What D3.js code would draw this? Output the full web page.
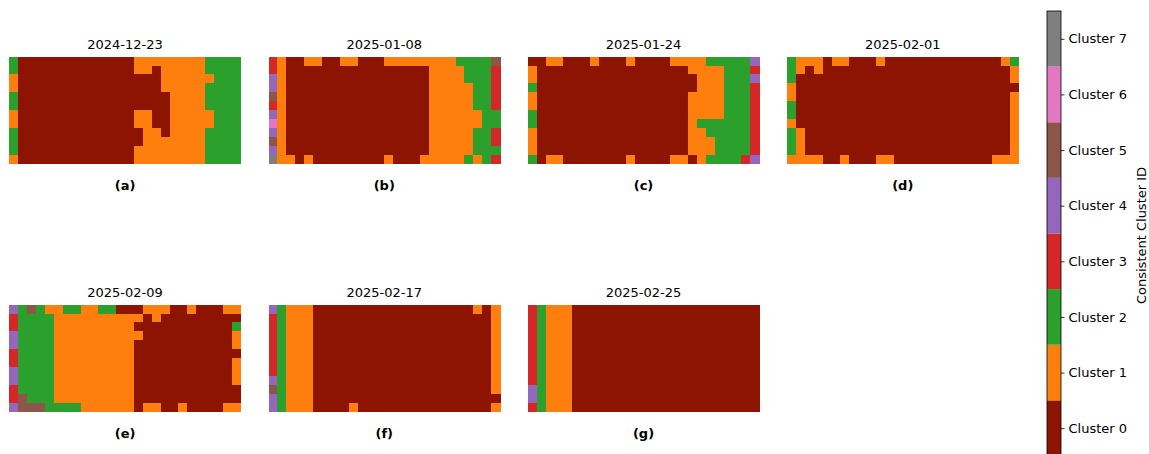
<!DOCTYPE html>
<html>
<head>
<meta charset="UTF-8">
<title>Consistent clusters over time</title>
<script src="https://cdnjs.cloudflare.com/ajax/libs/d3/7.8.5/d3.min.js"></script>
<style>
  body { margin: 0; background: #fff; }
  text { font-family: "DejaVu Sans", sans-serif; }
</style>
</head>
<body>
<div id="chart"></div>
<script>
// cluster id per cell, one string per grid row (12 rows x 26 columns)
const dates = ["2024-12-23", "2025-01-08", "2025-01-24", "2025-02-01", "2025-02-09", "2025-02-17", "2025-02-25"];
const letters = ["(a)", "(b)", "(c)", "(d)", "(e)", "(f)", "(g)"];
const clusterNames = ["Cluster 0", "Cluster 1", "Cluster 2", "Cluster 3", "Cluster 4", "Cluster 5", "Cluster 6", "Cluster 7"];
const clusterColors = ["#8c1400", "#ff7f0e", "#2ca02c", "#d62728", "#9467bd", "#8c564b", "#e377c2", "#7f7f7f"];

const gridA = [
  "20000000000000111111112222",
  "20000000000000110111112222",
  "10000000000000000111111222",
  "10000000000000000111112222",
  "20000000000000000011112222",
  "20000000000000000011112222",
  "10000000000000110011111222",
  "10000000000000110011111222",
  "20000000000000011011112222",
  "20000000000000011111112222",
  "20000000000000111111112222",
  "10000000000000111111112222"
];
const gridB = [
  "31001100110001111111122225",
  "31000000000000000011112223",
  "41000000000000000011112223",
  "41000000000000000011111223",
  "51000000000000000011111223",
  "31000000000000000011111223",
  "41000000000000000011111122",
  "61000000000000000011111122",
  "41000000000000000011111223",
  "51000000000000000011111223",
  "41000000000000000011111222",
  "71101000000001000111112123"
];
const gridC = [
  "00110001000100001111222224",
  "10000000000000000011112223",
  "10000000000000000001112224",
  "20000000000000000001112223",
  "10000000000000000011112223",
  "10000000000000000011112223",
  "20000000000000000011112223",
  "20000000000000000012222223",
  "10000000000000000011222223",
  "10000000000000000011122223",
  "10000000000000000011122223",
  "20110000000100001101222234"
];
const gridD = [
  "21110110001000000000000012",
  "21010000000000000000000001",
  "20000000000000000000000001",
  "10000000000000000000000000",
  "10000000000000000000000001",
  "20000000000000000000000001",
  "20000000000000000000000001",
  "10000000000000000000000001",
  "21000000000000000000000001",
  "21000000000000000000000001",
  "21000000000000000000000001",
  "11110010001100000000000111"
];
const gridE = [
  "42521122112200011100100011",
  "32222111111111101000000000",
  "32222111111111000000000002",
  "42222111111111100000000001",
  "42222111111111000000000001",
  "32222111111111000000000000",
  "32222111111111000000000001",
  "42222111111111000000000001",
  "42222111111111000000000001",
  "32222111111111000000000000",
  "35222111111111000000000000",
  "45552222111111011001000011"
];
const gridF = [
  "42111000000000000000000101",
  "32111000000000000000000001",
  "32111000000000000000000001",
  "32111000000000000000000001",
  "32111000000000000000000001",
  "32111000000000000000000001",
  "32111000000000000000000001",
  "32111000000000000000000001",
  "42111000000000000000000001",
  "52111000000000000000000001",
  "42111000000000000000000000",
  "42111000010000000000000001"
];
const gridG = [
  "32111000000000000000000000",
  "32111000000000000000000000",
  "32111000000000000000000000",
  "32111000000000000000000000",
  "32111000000000000000000000",
  "32111000000000000000000000",
  "32111000000000000000000000",
  "32111000000000000000000000",
  "32111000000000000000000000",
  "42111000000000000000000000",
  "42111000000000000000000000",
  "32111000000000000000000000"
];
const grids = [gridA, gridB, gridC, gridD, gridE, gridF, gridG];

const width = 1149, height = 454;
const svg = d3.select("#chart").append("svg")
  .attr("width", width).attr("height", height);

const color = d3.scaleOrdinal().domain(d3.range(8)).range(clusterColors);

// panel layout: 4 per row, 2 rows
const panelW = 231.5, panelH = 106.7;
const colX = d3.scalePoint().domain(d3.range(4)).range([9.3, 787]);
const rowY = d3.scalePoint().domain(d3.range(2)).range([56.7, 304.7]);

const nCols = 26, nRows = 12;
const x = d3.scaleBand().domain(d3.range(nCols)).range([0, panelW]);
const y = d3.scaleBand().domain(d3.range(nRows)).range([0, panelH]);

grids.forEach((grid, i) => {
  const g = svg.append("g")
    .attr("transform", `translate(${colX(i % 4)},${rowY(Math.floor(i / 4))})`);

  const cells = [];
  grid.forEach((row, r) => {
    row.split("").forEach((ch, c) => cells.push({r, c, k: +ch}));
  });

  g.selectAll("rect.cell")
    .data(cells).enter().append("rect")
    .attr("class", "cell")
    .attr("x", d => x(d.c))
    .attr("y", d => y(d.r))
    .attr("width", x.bandwidth() + 0.6)
    .attr("height", y.bandwidth() + 0.6)
    .attr("shape-rendering", "crispEdges")
    .attr("fill", d => color(d.k));

  g.append("text")
    .attr("x", panelW / 2).attr("y", -8)
    .attr("text-anchor", "middle")
    .style("font-size", "13px")
    .text(dates[i]);

  g.append("text")
    .attr("x", panelW / 2).attr("y", panelH + 27)
    .attr("text-anchor", "middle")
    .style("font-size", "13px").style("font-weight", "bold")
    .text(letters[i]);
});

// colorbar
const cbX = 1047, cbW = 14;
const cb = d3.scaleLinear().domain([-0.5, 7.5]).range([456, 11]);
const cbG = svg.append("g");
cbG.selectAll("rect")
  .data(d3.range(8)).enter().append("rect")
  .attr("x", cbX)
  .attr("y", d => cb(d + 0.5))
  .attr("width", cbW)
  .attr("height", d => cb(d - 0.5) - cb(d + 0.5))
  .attr("fill", d => color(d));
cbG.append("rect")
  .attr("x", cbX).attr("y", cb(7.5))
  .attr("width", cbW).attr("height", cb(-0.5) - cb(7.5))
  .attr("fill", "none").attr("stroke", "#000").attr("stroke-width", 0.8);

const cbAxis = cbG.append("g")
  .attr("transform", `translate(${cbX + cbW},0)`)
  .call(d3.axisRight(cb).tickValues(d3.range(8)).tickSize(3.5).tickPadding(4)
    .tickFormat(d => clusterNames[d]));
cbAxis.select(".domain").remove();
cbAxis.selectAll("text").style("font-size", "13px").style("font-family", "DejaVu Sans, sans-serif");
cbAxis.selectAll("line").attr("stroke-width", 0.8);

svg.append("text")
  .attr("transform", `translate(1146,${(cb(7.5) + cb(-0.5)) / 2 + 2}) rotate(-90)`)
  .attr("text-anchor", "middle")
  .style("font-size", "13px")
  .text("Consistent Cluster ID");
</script>
</body>
</html>
